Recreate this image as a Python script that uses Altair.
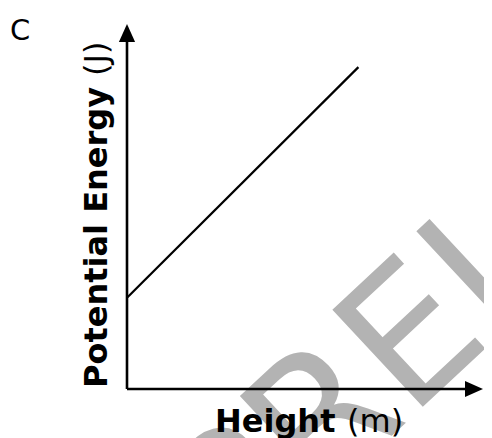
import altair as alt
import pandas as pd

# data
heights = [0, 7.15]
energy = [2.75, 9.7]
axis_max = 11          # end of both axes (arrow tips)
axis_line_end = 10.55  # rule ends under the arrowhead

FONT = "DejaVu Sans"

xs = alt.Scale(domain=[0, axis_max], nice=False, zero=False)
ys = alt.Scale(domain=[0, axis_max], nice=False, zero=False)

line_df = pd.DataFrame({"h": heights, "e": energy})

watermark = alt.Chart(pd.DataFrame({"t": ["PRELIMINARY"]})).mark_text(
    font=FONT, fontSize=182, color="#b3b3b3", angle=317,
    align="left", baseline="alphabetic"
).encode(text="t:N", x=alt.value(110), y=alt.value(556))

line = alt.Chart(line_df).mark_line(color="black", strokeWidth=2.2).encode(
    x=alt.X("h:Q", scale=xs, axis=None),
    y=alt.Y("e:Q", scale=ys, axis=None),
)

yaxis_df = pd.DataFrame({"x": [0], "y": [0], "y2": [axis_line_end]})
yaxis = alt.Chart(yaxis_df).mark_rule(color="black", strokeWidth=2.6).encode(
    x=alt.X("x:Q", scale=xs, axis=None),
    y=alt.Y("y:Q", scale=ys, axis=None),
    y2="y2:Q",
)
xaxis_df = pd.DataFrame({"x": [0], "x2": [axis_line_end], "y": [0]})
xaxis = alt.Chart(xaxis_df).mark_rule(color="black", strokeWidth=2.6).encode(
    x=alt.X("x:Q", scale=xs, axis=None),
    x2="x2:Q",
    y=alt.Y("y:Q", scale=ys, axis=None),
)

up_arrow = alt.Chart(pd.DataFrame({"x": [0], "y": [axis_max]})).mark_point(
    shape="M0,0L0.9,2L-0.9,2Z", size=324, filled=True, color="black", opacity=1
).encode(x=alt.X("x:Q", scale=xs, axis=None), y=alt.Y("y:Q", scale=ys, axis=None))

right_arrow = alt.Chart(pd.DataFrame({"x": [axis_max], "y": [0]})).mark_point(
    shape="M0,0L-2,-0.9L-2,0.9Z", size=324, filled=True, color="black", opacity=1
).encode(x=alt.X("x:Q", scale=xs, axis=None), y=alt.Y("y:Q", scale=ys, axis=None))


def label(txt, x, y, size, weight="normal", angle=0):
    return alt.Chart(pd.DataFrame({"t": [txt]})).mark_text(
        font=FONT, fontSize=size, fontWeight=weight, color="black",
        align="left", baseline="alphabetic", angle=angle
    ).encode(text="t:N", x=alt.value(x), y=alt.value(y))


panel = label("C", -117, 15.5, 29)
xt1 = label("Height", 88, 408, 32, "bold")
xt2 = label("(m)", 220, 408, 32)
yt1 = label("Potential Energy", -20, 364, 32, "bold", 270)
yt2 = label("(J)", -20, 52, 32, "normal", 270)

chart = alt.layer(
    watermark, line, yaxis, xaxis, up_arrow, right_arrow,
    panel, xt1, xt2, yt1, yt2
).properties(
    width=356, height=365,
    padding={"left": 119, "top": 16, "right": 1, "bottom": 49},
    autosize=alt.AutoSizeParams(type="none"),
).configure_view(stroke=None)

chart.save("out.html", embed_options={"renderer": "svg", "actions": False})
